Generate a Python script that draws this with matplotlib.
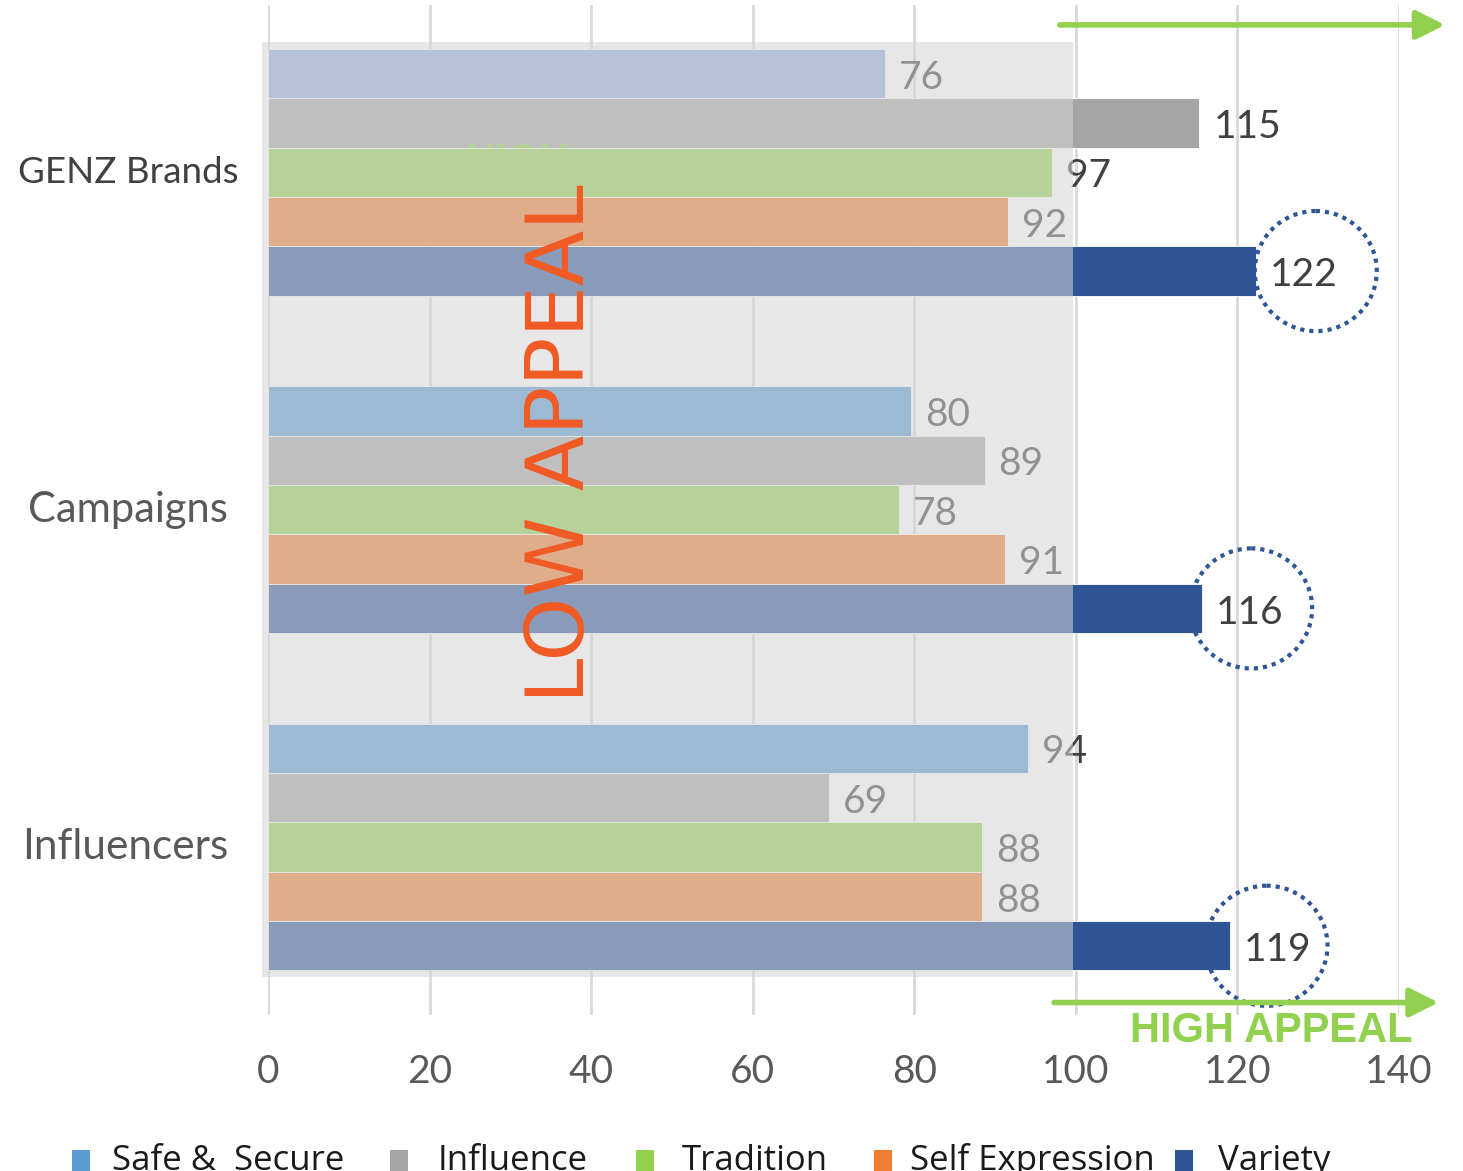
import numpy as np
import matplotlib.pyplot as plt
from matplotlib.patches import Rectangle, Ellipse

# data
groups = ["GENZ Brands", "Campaigns", "Influencers"]
series = ["Safe &  Secure", "Influence", "Tradition", "Self Expression", "Variety"]
safe = [76.4, 79.6, 94.1]
influence = [115.3, 88.7, 69.4]
tradition = [97.0, 78.1, 88.4]
self_expr = [91.6, 91.2, 88.4]
variety = [122.3, 115.6, 119.1]
xticks = [0, 20, 40, 60, 80, 100, 120, 140]

plt.rcParams['font.family'] = ['Lato', 'DejaVu Sans']

W, H = 1463, 1171
fig = plt.figure(figsize=(W / 100, H / 100), dpi=100)
ax = fig.add_axes([268 / W, 1 - 1015 / H, (1399 - 268) / W, (1015 - 5) / H])
ax.set_xlim(0, 140)
ax.set_ylim(2.498, -0.496)

h = 0.1464
ypos = np.arange(len(groups))
values = [safe, influence, tradition, self_expr, variety]
colors = [['#8faadc', '#5b9bd5', '#5b9bd5'], '#a5a5a5', '#92d050', '#ed7d31', '#2f5597']
zs = [2.0, 2.1, 2.3, 2.4, 2.5]

for i, vals in enumerate(values):
    y = ypos + (i - 2) * h
    ax.barh(y, vals, height=h, color=colors[i], edgecolor='white', linewidth=0.6, zorder=zs[i])
    for yy, v in zip(y, vals):
        ax.annotate(f"{v:.0f}", xy=(v, yy), xytext=(10, -3), textcoords='offset points',
                    va='center', ha='left', fontsize=28, color='#404040', zorder=2.6)

# faint leftover text peeking out behind the tradition bar
ax.text(24.4, 0.0015, "HIGH", fontsize=30, weight='bold', family='Liberation Sans',
        color='#92d050', ha='left', va='baseline', zorder=2.2)

# grey wash over the "low appeal" zone
ax.add_patch(Rectangle((-0.74, -0.387), 100.34, 2.771, facecolor='#d5d5d5', alpha=0.55,
                       edgecolor='none', zorder=4, clip_on=False))

# dotted circles around the variety values
for cx, yy in zip([129.7, 121.7, 123.6], ypos + 2 * h):
    ax.add_patch(Ellipse((cx, yy), 15.1, 0.356, fill=False, edgecolor='#2f5597', lw=3,
                         linestyle=(0, (1, 1.2)), zorder=5, clip_on=False))

ax.text(36.4, 0.805, "LOW APPEAL", rotation=90, ha='center', va='center', fontsize=58.5,
        color='#f15a24', family='DejaVu Sans', zorder=6)
ax.text(141.7, 2.579, "HIGH APPEAL", ha='right', va='baseline', fontsize=30, weight='bold',
        family='Liberation Sans', color='#92d050', zorder=6, clip_on=False)

arrow = dict(arrowstyle='-|>,head_length=0.7,head_width=0.35', lw=4, color='#92d050',
             shrinkA=0, shrinkB=0, mutation_scale=25)
ax.annotate('', xy=(145.7, -0.437), xytext=(98.0, -0.437), arrowprops=arrow,
            annotation_clip=False, zorder=6)
ax.annotate('', xy=(144.9, 2.461), xytext=(97.3, 2.461), arrowprops=arrow,
            annotation_clip=False, zorder=6)

# category labels
for g, yy, xx, fs, c in zip(groups, ypos, [-3.7, -4.95, -4.95], [26.5, 30, 30.5],
                            ['#404040', '#595959', '#595959']):
    ax.text(xx, yy, g, ha='right', va='center', fontsize=fs, color=c)

ax.set_xticks(xticks)
ax.set_yticks([])
ax.tick_params(axis='x', length=0, pad=28, labelsize=28, labelcolor='#595959')
ax.grid(axis='x', color='#d9d9d9', lw=2)
ax.set_axisbelow(True)
for s in ax.spines.values():
    s.set_visible(False)

# legend along the bottom edge
leg_colors = ['#5b9bd5', '#a5a5a5', '#92d050', '#ed7d31', '#2f5597']
mark_x = [72, 390, 636, 874, 1175]
text_x = [112, 438, 682, 910, 1218]
for name, c, mx, tx in zip(series, leg_colors, mark_x, text_x):
    fig.patches.append(Rectangle((mx / W, 0), 18 / W, 21 / H, facecolor=c, edgecolor='none',
                                 transform=fig.transFigure, figure=fig))
    fig.text(tx / W, 1 / H, name, fontsize=25, family=['Open Sans', 'DejaVu Sans'],
             color='#1a1a1a', ha='left', va='baseline')

fig.savefig('out.png', dpi=100)
